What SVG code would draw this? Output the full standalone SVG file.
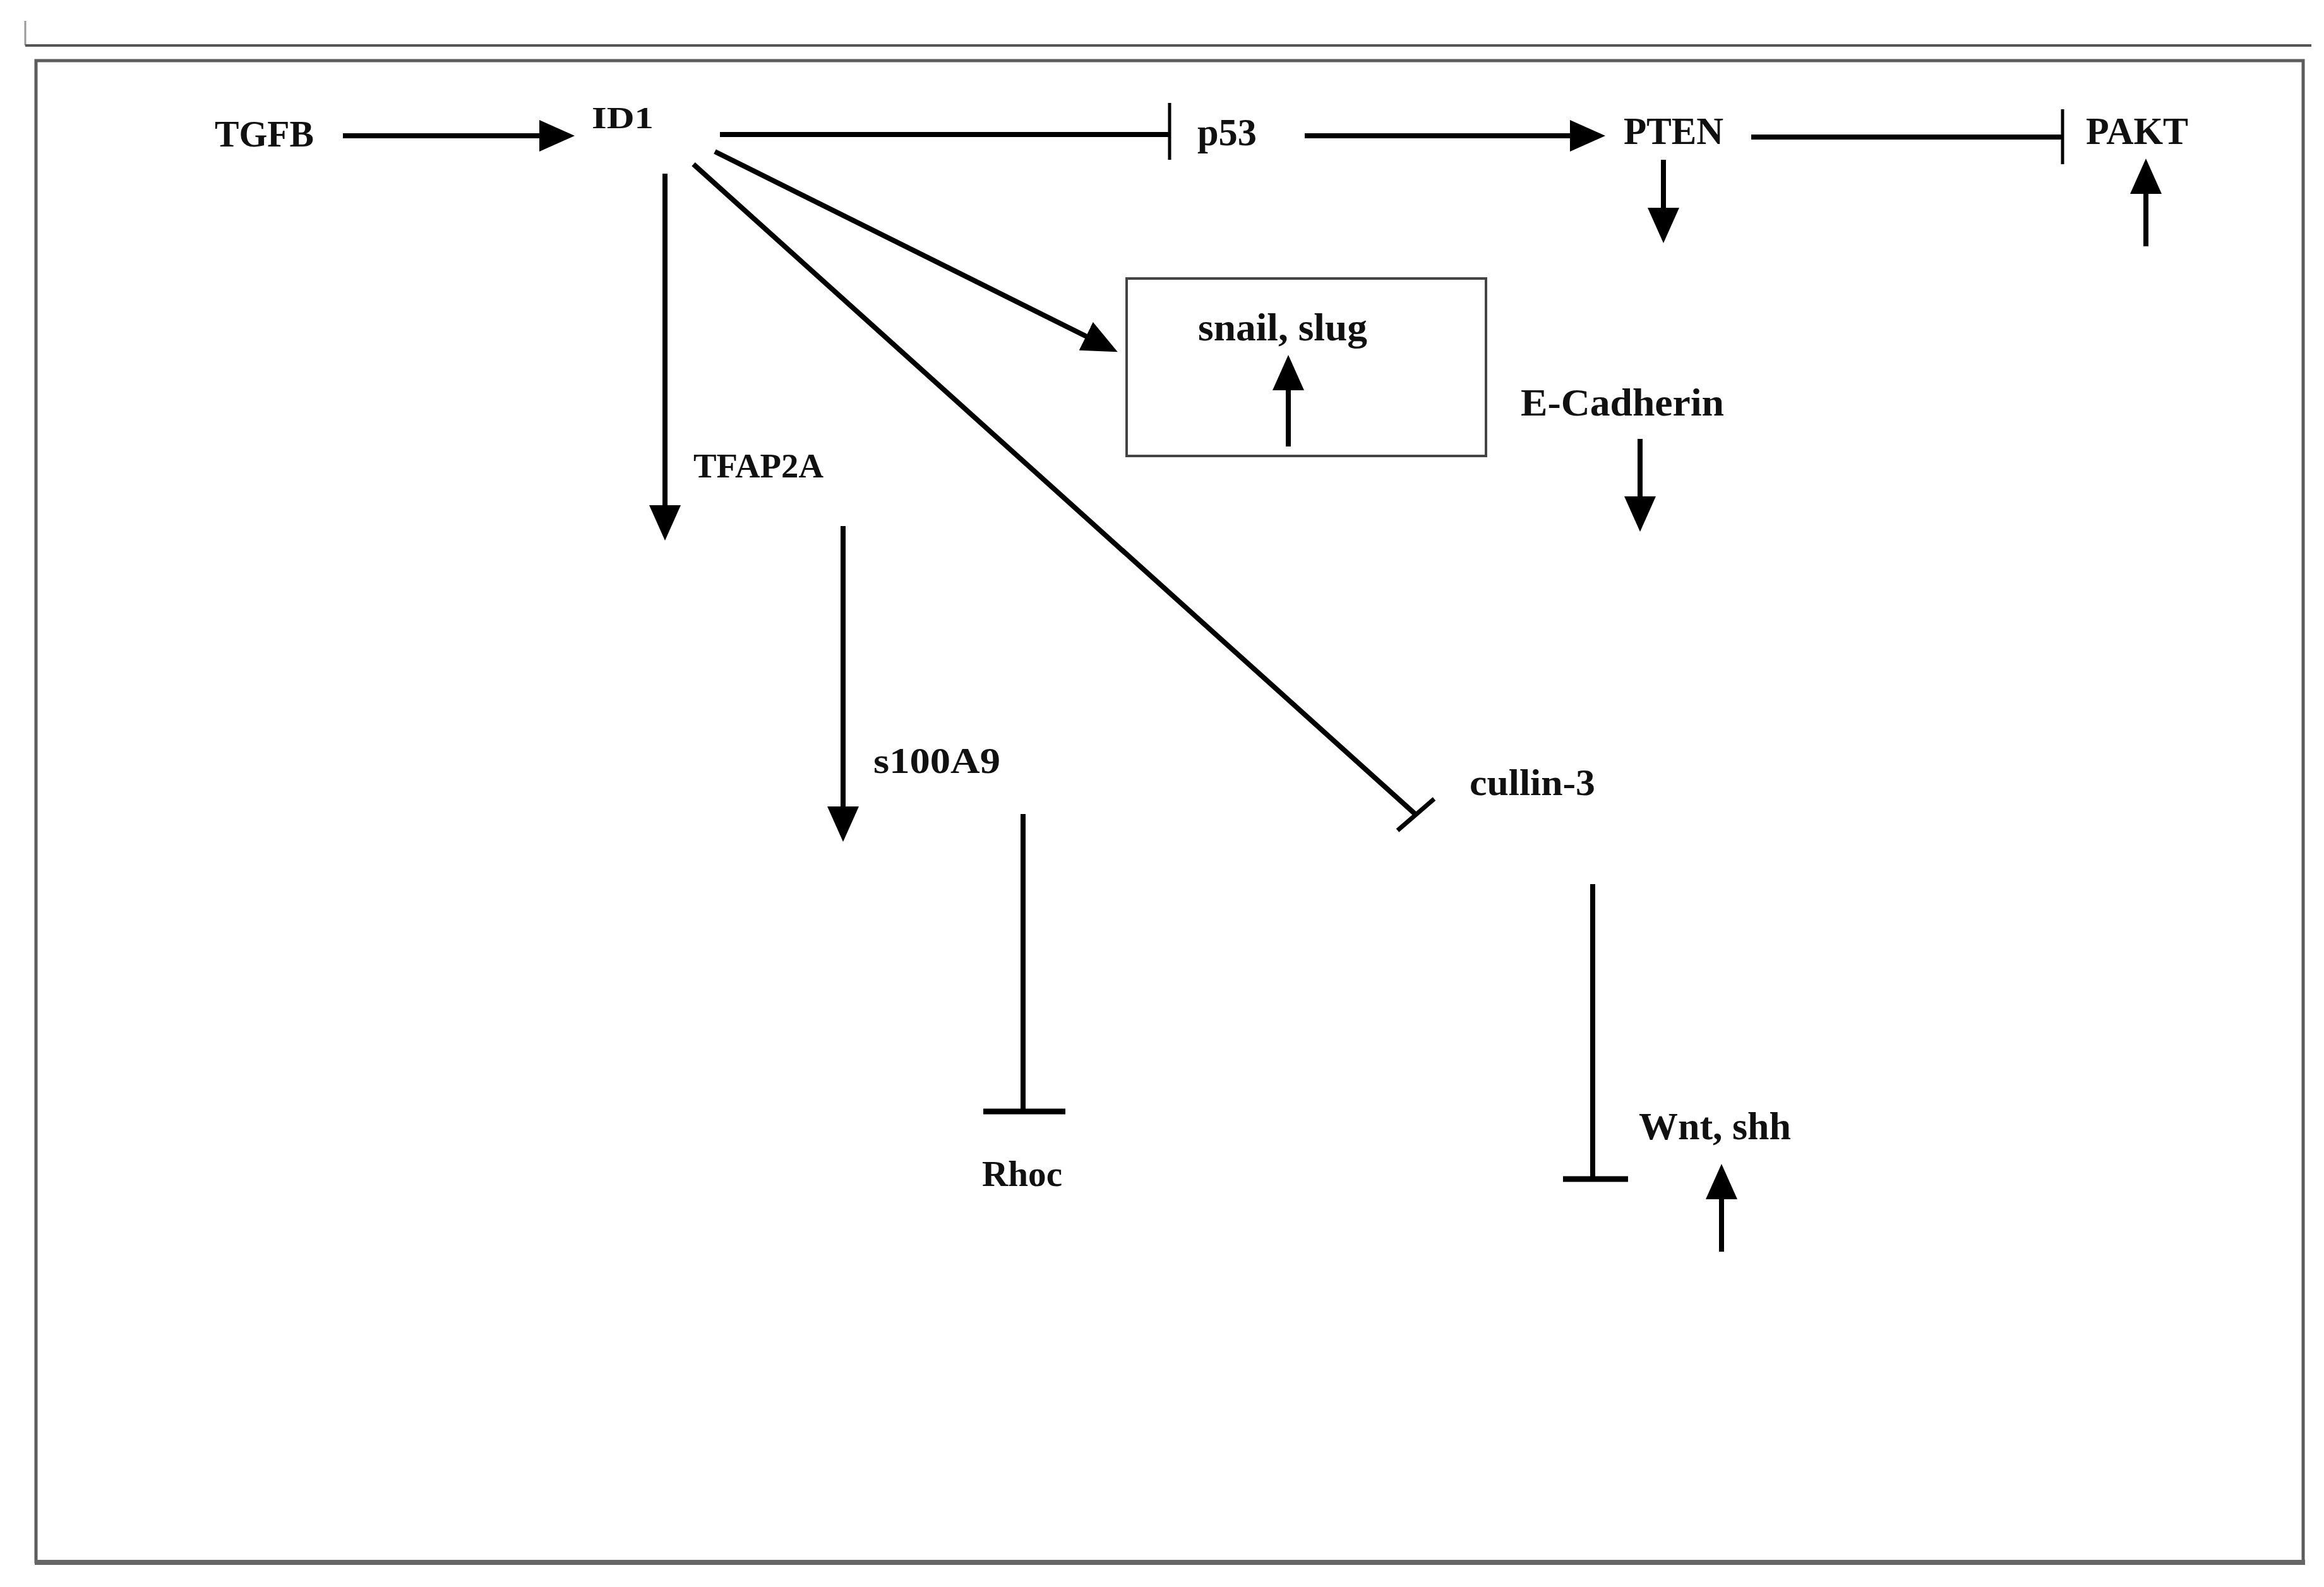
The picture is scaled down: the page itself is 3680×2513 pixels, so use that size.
<svg xmlns="http://www.w3.org/2000/svg" width="3680" height="2513" viewBox="0 0 3680 2513">
<defs>
<style>
.lbl{font-family:"Liberation Serif","Times New Roman",serif;font-weight:bold;fill:#111;}
.c{stroke:#000;stroke-width:8;fill:none;}
.bar{stroke:#000;fill:none;}
</style>
<marker id="arr" viewBox="0 0 56 50" refX="44" refY="25" markerWidth="56" markerHeight="50" markerUnits="userSpaceOnUse" orient="auto">
<path d="M0,0 L56,25 L0,50 z" fill="#000"/>
</marker>
</defs>
<rect width="3680" height="2513" fill="#fff"/>
<g id="frame">
<line x1="40" y1="33" x2="40" y2="72" stroke="#999" stroke-width="3"/>
<line x1="40" y1="72" x2="3660" y2="72" stroke="#555" stroke-width="4"/>
<rect x="57" y="96" width="3590" height="2377" fill="none" stroke="#5c5c5c" stroke-width="5"/>
<line x1="55" y1="2474" x2="3650" y2="2474" stroke="#666" stroke-width="8"/>
</g>
<g id="connectors">
<line class="c" x1="543" y1="215" x2="898" y2="215" marker-end="url(#arr)"/>
<line class="c" x1="1140" y1="213" x2="1852" y2="213"/>
<line class="bar" x1="1852" y1="163" x2="1852" y2="253" stroke-width="5"/>
<line class="c" x1="2066" y1="215" x2="2530" y2="215" marker-end="url(#arr)"/>
<line class="c" x1="2773" y1="217" x2="3266" y2="217"/>
<line class="bar" x1="3266" y1="173" x2="3266" y2="260" stroke-width="5"/>
<line class="c" x1="2634" y1="253" x2="2634" y2="373" marker-end="url(#arr)"/>
<line class="c" x1="3398" y1="390" x2="3398" y2="263" marker-end="url(#arr)"/>
<line class="c" x1="1132" y1="240" x2="1759" y2="552" marker-end="url(#arr)"/>
<line class="c" x1="1098" y1="260" x2="2242" y2="1290"/>
<line class="bar" x1="2271" y1="1265" x2="2213" y2="1315" stroke-width="7"/>
<line class="c" x1="1053" y1="275" x2="1053" y2="844" marker-end="url(#arr)"/>
<line class="c" x1="1335" y1="833" x2="1335" y2="1321" marker-end="url(#arr)"/>
<line class="c" x1="1620" y1="1289" x2="1620" y2="1760"/>
<line class="bar" x1="1557" y1="1760" x2="1687" y2="1760" stroke-width="9"/>
<line class="c" x1="2522" y1="1400" x2="2522" y2="1867"/>
<line class="bar" x1="2475" y1="1867" x2="2578" y2="1867" stroke-width="9"/>
<line class="c" x1="2726" y1="1982" x2="2726" y2="1855" marker-end="url(#arr)"/>
<line class="c" x1="2597" y1="695" x2="2597" y2="830" marker-end="url(#arr)"/>
<line class="c" x1="2040" y1="707" x2="2040" y2="574" marker-end="url(#arr)"/>
</g>
<g id="node-tgfb"><text class="lbl" x="340" y="232" font-size="60" textLength="157" lengthAdjust="spacingAndGlyphs">TGFB</text></g>
<g id="node-id1"><text class="lbl" x="937" y="203" font-size="48" textLength="98" lengthAdjust="spacingAndGlyphs">ID1</text></g>
<g id="node-p53"><text class="lbl" x="1896" y="230" font-size="62" textLength="94" lengthAdjust="spacingAndGlyphs">p53</text></g>
<g id="node-pten"><text class="lbl" x="2571" y="228" font-size="62" textLength="158" lengthAdjust="spacingAndGlyphs">PTEN</text></g>
<g id="node-pakt"><text class="lbl" x="3303" y="228" font-size="62" textLength="162" lengthAdjust="spacingAndGlyphs">PAKT</text></g>
<g id="node-snail">
<rect x="1784" y="441" width="569" height="281" fill="none" stroke="#444" stroke-width="4"/>
<text class="lbl" x="1897" y="539" font-size="62" textLength="268" lengthAdjust="spacingAndGlyphs">snail, slug</text>
</g>
<g id="node-ecadherin"><text class="lbl" x="2408" y="658" font-size="62" textLength="322" lengthAdjust="spacingAndGlyphs">E-Cadherin</text></g>
<g id="node-tfap2a"><text class="lbl" x="1098" y="756" font-size="54" textLength="206" lengthAdjust="spacingAndGlyphs">TFAP2A</text></g>
<g id="node-s100a9"><text class="lbl" x="1383" y="1224" font-size="58" textLength="201" lengthAdjust="spacingAndGlyphs">s100A9</text></g>
<g id="node-cullin3"><text class="lbl" x="2327" y="1259" font-size="60" textLength="199" lengthAdjust="spacingAndGlyphs">cullin-3</text></g>
<g id="node-rhoc"><text class="lbl" x="1555" y="1878" font-size="57" textLength="127" lengthAdjust="spacingAndGlyphs">Rhoc</text></g>
<g id="node-wnt"><text class="lbl" x="2595" y="1804" font-size="62" textLength="241" lengthAdjust="spacingAndGlyphs">Wnt, shh</text></g>
</svg>
